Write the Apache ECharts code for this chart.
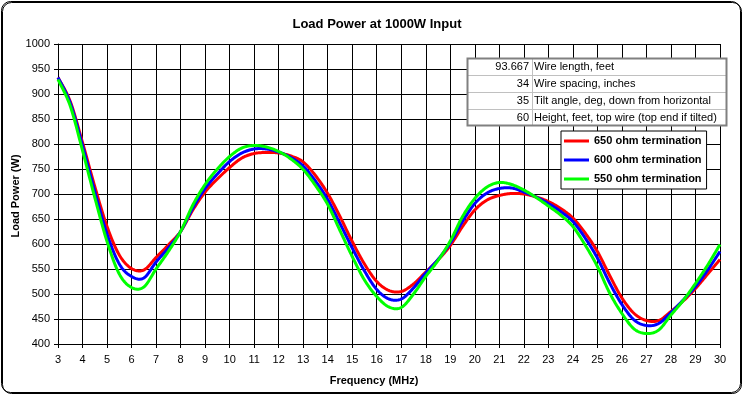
<!DOCTYPE html>
<html>
<head>
<meta charset="utf-8">
<script src="https://cdn.jsdelivr.net/npm/echarts@6/dist/echarts.min.js"></script>
<style>
html,body{margin:0;padding:0;background:#fff;}
#c{width:745px;height:395px;}
</style>
</head>
<body>
<div id="c"></div>
<script>
var titleText = 'Load Power at 1000W Input';
var xName = 'Frequency (MHz)';
var yName = 'Load Power (W)';
var seriesNames = ['650 ohm termination', '600 ohm termination', '550 ohm termination'];

var freq = [3, 3.5, 4, 4.5, 5, 5.5, 6, 6.5, 7, 7.5, 8, 8.5, 9, 9.5, 10, 10.5, 11, 11.5, 12, 12.5, 13, 13.5, 14, 14.5, 15, 15.5, 16, 16.5, 17, 17.5, 18, 18.5, 19, 19.5, 20, 20.5, 21, 21.5, 22, 22.5, 23, 23.5, 24, 24.5, 25, 25.5, 26, 26.5, 27, 27.5, 28, 28.5, 29, 29.5, 30];

var red650 = [933, 885, 803, 715, 635, 578, 551, 548, 573, 598, 625, 668, 704, 730, 753, 772, 781, 783, 782, 776, 764, 737, 701, 655, 605, 560, 525, 507, 505, 520, 544, 568, 597, 635, 668, 688, 697, 701, 700, 694, 685, 671, 652, 622, 585, 537, 492, 461, 447, 447, 465, 486, 511, 540, 569];

var blue600 = [933, 882, 797, 705, 620, 560, 535, 532, 564, 592, 625, 672, 711, 740, 765, 782, 790, 790, 784, 773, 756, 726, 689, 641, 592, 546, 509, 490, 490, 512, 542, 569, 602, 645, 681, 702, 711, 712, 704, 694, 681, 665, 645, 612, 572, 522, 479, 448, 437, 441, 463, 488, 515, 548, 585];

var green550 = [929, 876, 787, 693, 605, 540, 513, 514, 550, 585, 625, 678, 719, 750, 775, 792, 797, 794, 785, 770, 749, 717, 679, 627, 575, 528, 495, 474, 473, 500, 535, 567, 606, 655, 691, 714, 723, 719, 708, 693, 676, 658, 635, 598, 555, 502, 461, 430, 421, 428, 458, 487, 521, 558, 599];

var tableValues = ['93.667', '34', '35', '60'];
var tableLabels = ['Wire length, feet', 'Wire spacing, inches', 'Tilt angle, deg, down from horizontal', 'Height, feet, top wire (top end if tilted)'];

var colors = ['#ff0000', '#0000ff', '#00ff00'];
var FONT = '"Liberation Sans", Arial, sans-serif';

function pairs(xs, ys) { return xs.map(function (x, i) { return [x, ys[i]]; }); }
var allY = [red650, blue600, green550];

// draws a Catmull-Rom curve through the axis-mapped data points (pixel space)
function makeRenderer(si) {
  return function (params, api) {
    if (params.dataIndex !== 0) return null;
    var ys = allY[si];
    var pts = freq.map(function (x, i) { return api.coord([x, ys[i]]); });
    var n = pts.length, out = [], steps = 16;
    for (var i = 0; i < n - 1; i++) {
      var p0 = pts[Math.max(i - 1, 0)], p1 = pts[i], p2 = pts[i + 1], p3 = pts[Math.min(i + 2, n - 1)];
      for (var s = 0; s < steps; s++) {
        var t = s / steps, t2 = t * t, t3 = t2 * t;
        var px = 0.5 * ((2 * p1[0]) + (-p0[0] + p2[0]) * t + (2 * p0[0] - 5 * p1[0] + 4 * p2[0] - p3[0]) * t2 + (-p0[0] + 3 * p1[0] - 3 * p2[0] + p3[0]) * t3);
        var py = 0.5 * ((2 * p1[1]) + (-p0[1] + p2[1]) * t + (2 * p0[1] - 5 * p1[1] + 4 * p2[1] - p3[1]) * t2 + (-p0[1] + 3 * p1[1] - 3 * p2[1] + p3[1]) * t3);
        out.push([px, py]);
      }
    }
    out.push(pts[n - 1]);
    return {
      type: 'polyline', shape: { points: out },
      style: { stroke: colors[si], lineWidth: 3, fill: null, lineJoin: 'round' }
    };
  };
}

var series = seriesNames.map(function (n, i) {
  return {
    name: n, type: 'custom', data: pairs(freq, allY[i]),
    encode: { x: 0, y: 1 },
    renderItem: makeRenderer(i),
    itemStyle: { color: colors[i] },
    animation: false, z: 3 + i, silent: true
  };
});

var tbl = { left: 467, top: 58, width: 260, rowH: 17, col: 532 };
var tableEls = [];
tableEls.push({ type: 'rect', shape: { x: tbl.left, y: tbl.top, width: tbl.width, height: tbl.rowH * 4 }, style: { fill: '#fff', stroke: 'none' }, z: 10 });
for (var r = 1; r < 4; r++) {
  tableEls.push({ type: 'line', shape: { x1: tbl.left, y1: tbl.top + r * tbl.rowH + 0.5, x2: tbl.left + tbl.width, y2: tbl.top + r * tbl.rowH + 0.5 }, style: { stroke: '#c0c0c0', lineWidth: 1 }, z: 11 });
}
tableEls.push({ type: 'line', shape: { x1: tbl.col + 0.5, y1: tbl.top, x2: tbl.col + 0.5, y2: tbl.top + tbl.rowH * 4 }, style: { stroke: '#c0c0c0', lineWidth: 1 }, z: 11 });
tableEls.push({ type: 'rect', shape: { x: tbl.left + 0.5, y: tbl.top + 0.5, width: tbl.width - 1, height: tbl.rowH * 4 - 1 }, style: { fill: 'none', stroke: '#808080', lineWidth: 2 }, z: 12 });
tableValues.forEach(function (v, i) {
  var cy = tbl.top + i * tbl.rowH + tbl.rowH / 2 + 0.5;
  tableEls.push({ type: 'text', x: tbl.col - 3, y: cy, style: { text: v, fill: '#000', font: '11px ' + FONT, textAlign: 'right', textVerticalAlign: 'middle' }, z: 13 });
  tableEls.push({ type: 'text', x: tbl.col + 2, y: cy, style: { text: tableLabels[i], fill: '#000', font: '11px ' + FONT, textAlign: 'left', textVerticalAlign: 'middle' }, z: 13 });
});

var chart = echarts.init(document.getElementById('c'), null, { renderer: 'canvas' });
chart.setOption({
  animation: false,
  backgroundColor: '#fff',
  title: {
    text: titleText, left: 372, top: 13, textAlign: 'center',
    textStyle: { fontFamily: FONT, fontSize: 13, fontWeight: 'bold', color: '#000' }
  },
  grid: { left: 58, top: 44, width: 662, height: 300, containLabel: false },
  xAxis: {
    type: 'value', min: 3, max: 30, interval: 1,
    axisLine: { show: true, onZero: false, lineStyle: { color: '#000', width: 1 } },
    axisTick: { show: true, length: 4, lineStyle: { color: '#000' } },
    axisLabel: { color: '#000', fontFamily: FONT, fontSize: 11, margin: 10 },
    splitLine: { show: true, lineStyle: { color: '#000', width: 1 } }
  },
  yAxis: {
    type: 'value', min: 400, max: 1000, interval: 50,
    axisLine: { show: true, lineStyle: { color: '#000', width: 1 } },
    axisTick: { show: true, length: 4, lineStyle: { color: '#000' } },
    axisLabel: { color: '#000', fontFamily: FONT, fontSize: 11, margin: 8, formatter: function (v) { return String(v); } },
    splitLine: { show: true, lineStyle: { color: '#000', width: 1 } }
  },
  legend: {
    data: seriesNames, orient: 'vertical', left: 561, top: 131,
    padding: [3, 5, 3, 3], itemGap: 5, itemWidth: 25, itemHeight: 3, icon: 'rect',
    backgroundColor: '#fff', borderColor: '#000', borderWidth: 1, borderRadius: 0,
    textStyle: { fontFamily: FONT, fontSize: 11, fontWeight: 'bold', color: '#000', lineHeight: 14 },
    z: 20
  },
  graphic: [
    { type: 'rect', shape: { x: 1.5, y: 1.5, width: 739, height: 391, r: 9 }, style: { fill: 'none', stroke: '#000', lineWidth: 1, shadowColor: '#000', shadowOffsetX: 1, shadowOffsetY: 1, shadowBlur: 0 }, z: 0 },
    { type: 'text', x: 374, y: 381, style: { text: xName, fill: '#000', font: 'bold 11px ' + FONT, textAlign: 'center', textVerticalAlign: 'middle' } },
    { type: 'text', x: 16, y: 196, rotation: Math.PI / 2, style: { text: yName, fill: '#000', font: 'bold 11px ' + FONT, textAlign: 'center', textVerticalAlign: 'middle' } },
    { type: 'group', children: tableEls, z: 10 }
  ],
  series: series
});
</script>
</body>
</html>
